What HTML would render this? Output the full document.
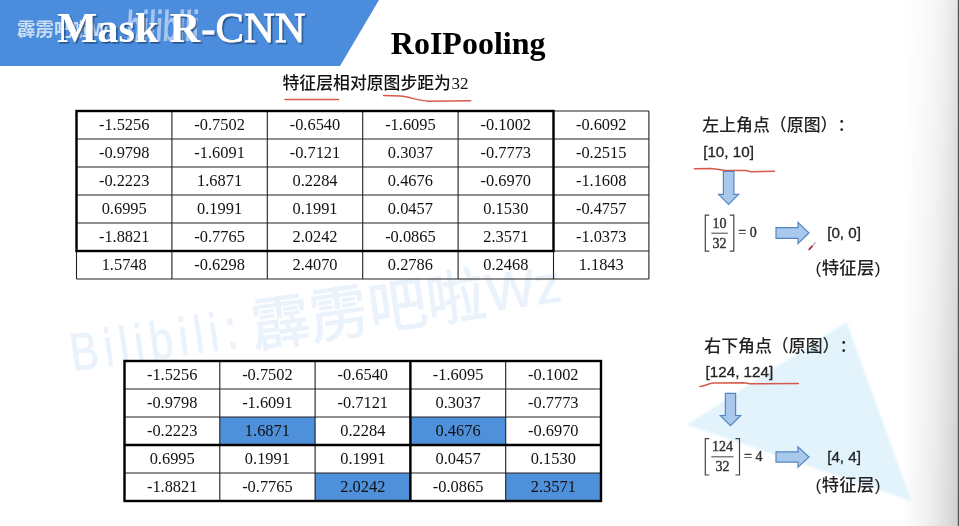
<!DOCTYPE html>
<html lang="zh"><head><meta charset="utf-8"><title>RoIPooling</title>
<style>
html,body{margin:0;padding:0;background:#fff;}
body{width:959px;height:526px;overflow:hidden;position:relative;}
svg{position:absolute;left:0;top:0;display:block;}
.num{font-family:"Liberation Serif", serif;font-size:16.4px;fill:#111;text-anchor:middle;}
.cjk{font-family:"Liberation Sans", "Noto Sans CJK SC", sans-serif;font-size:16.9px;font-weight:500;fill:#222;}
.lat{font-family:"Liberation Sans", "Noto Sans CJK SC", sans-serif;font-size:15.2px;fill:#222;stroke:#222;stroke-width:0.3px;}
.frm{font-family:"Liberation Serif", serif;font-size:14px;fill:#333;stroke:#333;stroke-width:0.4px;text-anchor:middle;}
</style></head><body>
<svg width="959" height="526" viewBox="0 0 959 526">
<defs>
<linearGradient id="rg" x1="0" y1="0" x2="1" y2="0"><stop offset="0" stop-color="#ffffff"/><stop offset="0.3" stop-color="#fcfcfc"/><stop offset="0.5" stop-color="#f9f9f9"/><stop offset="0.66" stop-color="#f4f4f4"/><stop offset="0.83" stop-color="#ececec"/><stop offset="1" stop-color="#e2e2e2"/></linearGradient>
<linearGradient id="rg2" x1="0" y1="0" x2="0" y2="1"><stop offset="0" stop-color="#000" stop-opacity="0"/><stop offset="1" stop-color="#000" stop-opacity="0.09"/></linearGradient>
<linearGradient id="rgm" x1="0" y1="0" x2="1" y2="0"><stop offset="0" stop-color="#fff" stop-opacity="0"/><stop offset="1" stop-color="#fff" stop-opacity="1"/></linearGradient>
<mask id="mk"><rect x="900" y="0" width="59" height="526" fill="url(#rgm)"/></mask>
<filter id="sh" x="-5%" y="-20%" width="110%" height="150%"><feDropShadow dx="1.6" dy="1.6" stdDeviation="0.7" flood-color="#1d3f73" flood-opacity="0.75"/></filter>
<filter id="soft" x="-5%" y="-5%" width="110%" height="110%"><feGaussianBlur stdDeviation="0.8"/></filter>
</defs>
<rect width="959" height="526" fill="#ffffff"/>
<rect x="903" y="0" width="56" height="526" fill="url(#rg)"/>
<rect x="900" y="0" width="59" height="526" fill="url(#rg2)" mask="url(#mk)"/>
<rect x="957.8" y="0" width="1.2" height="526" fill="#555"/>
<polygon points="846.5,322 687,424.7 911.5,501" fill="#e2f3fc" filter="url(#soft)"/>
<g transform="translate(71.5,371.5) rotate(-8.2)" font-family='"Liberation Sans","Noto Sans CJK SC",sans-serif' fill="#eaf2fb" stroke="#eaf2fb" stroke-width="0.9">
<text transform="scale(0.8,1)" x="1.5" y="0" font-size="53" letter-spacing="7.4">Bilibili</text>
<text transform="scale(0.8,1)" x="197" y="0" font-size="56">:</text>
<text x="184.6" y="2.5" font-size="58.9">霹雳吧啦</text>
<text x="421.5" y="0" font-size="52">Wz</text>
</g>
<polygon points="0,0 379,0 340,66 0,66" fill="#4c8cdc"/>
<text x="17" y="35.5" font-family='"Liberation Sans","Noto Sans CJK SC",sans-serif' font-size="18.5" font-weight="bold" fill="#ffffff" fill-opacity="0.7">霹雳吧啦Wz</text>
<text transform="translate(125.5,40.5) skewX(-3) scale(0.58,1)" font-family='"Liberation Sans",sans-serif' font-size="43.5" font-weight="bold" fill="#ffffff" fill-opacity="0.5">bilibili</text>
<text x="57" y="42" font-family='"Liberation Serif",serif' font-size="42.6" fill="#ffffff" filter="url(#sh)"><tspan font-weight="bold">Mask R</tspan><tspan stroke="#fff" stroke-width="0.8" dx="1.2">-CNN</tspan></text>
<text x="390.8" y="53.5" font-family='"Liberation Serif",serif' font-size="32" font-weight="bold" fill="#000">RoIPooling</text>
<text x="282.5" y="89" class="cjk" style="fill:#111;font-size:16.85px">特征层相对原图步距为<tspan font-family='"Liberation Serif",serif' font-size="17" font-weight="400" dx="0.5">32</tspan></text>
<path d="M285,99.5 L338.5,99.5" stroke="#d65a4a" stroke-width="1.5" stroke-linecap="round" fill="none"/>
<path d="M383.6,95.6 L400,96.1 C410,97 418,100.6 428.3,101.3 L470.7,100.8" stroke="#d65a4a" stroke-width="1.5" stroke-linecap="round" fill="none"/>
<path d="M76.5,111.0 H648.9 M76.5,139.0 H648.9 M76.5,167.0 H648.9 M76.5,195.0 H648.9 M76.5,223.0 H648.9 M76.5,251.0 H648.9 M76.5,279.0 H648.9 M76.5,111.0 V279.0 M171.9,111.0 V279.0 M267.3,111.0 V279.0 M362.7,111.0 V279.0 M458.1,111.0 V279.0 M553.5,111.0 V279.0 M648.9,111.0 V279.0" stroke="#222" stroke-width="1.1" fill="none"/>
<text class="num" x="124.2" y="130.1">-1.5256</text>
<text class="num" x="219.6" y="130.1">-0.7502</text>
<text class="num" x="315.0" y="130.1">-0.6540</text>
<text class="num" x="410.4" y="130.1">-1.6095</text>
<text class="num" x="505.8" y="130.1">-0.1002</text>
<text class="num" x="601.2" y="130.1">-0.6092</text>
<text class="num" x="124.2" y="158.1">-0.9798</text>
<text class="num" x="219.6" y="158.1">-1.6091</text>
<text class="num" x="315.0" y="158.1">-0.7121</text>
<text class="num" x="410.4" y="158.1">0.3037</text>
<text class="num" x="505.8" y="158.1">-0.7773</text>
<text class="num" x="601.2" y="158.1">-0.2515</text>
<text class="num" x="124.2" y="186.1">-0.2223</text>
<text class="num" x="219.6" y="186.1">1.6871</text>
<text class="num" x="315.0" y="186.1">0.2284</text>
<text class="num" x="410.4" y="186.1">0.4676</text>
<text class="num" x="505.8" y="186.1">-0.6970</text>
<text class="num" x="601.2" y="186.1">-1.1608</text>
<text class="num" x="124.2" y="214.1">0.6995</text>
<text class="num" x="219.6" y="214.1">0.1991</text>
<text class="num" x="315.0" y="214.1">0.1991</text>
<text class="num" x="410.4" y="214.1">0.0457</text>
<text class="num" x="505.8" y="214.1">0.1530</text>
<text class="num" x="601.2" y="214.1">-0.4757</text>
<text class="num" x="124.2" y="242.1">-1.8821</text>
<text class="num" x="219.6" y="242.1">-0.7765</text>
<text class="num" x="315.0" y="242.1">2.0242</text>
<text class="num" x="410.4" y="242.1">-0.0865</text>
<text class="num" x="505.8" y="242.1">2.3571</text>
<text class="num" x="601.2" y="242.1">-1.0373</text>
<text class="num" x="124.2" y="270.1">1.5748</text>
<text class="num" x="219.6" y="270.1">-0.6298</text>
<text class="num" x="315.0" y="270.1">2.4070</text>
<text class="num" x="410.4" y="270.1">0.2786</text>
<text class="num" x="505.8" y="270.1">0.2468</text>
<text class="num" x="601.2" y="270.1">1.1843</text>
<rect x="76.5" y="111.0" width="477.0" height="140.0" fill="none" stroke="#000" stroke-width="2.4"/>
<rect x="219.8" y="417.0" width="95.3" height="28.0" fill="#4e91da"/>
<rect x="410.4" y="417.0" width="95.3" height="28.0" fill="#4e91da"/>
<rect x="315.1" y="473.0" width="95.3" height="28.0" fill="#4e91da"/>
<rect x="505.7" y="473.0" width="95.3" height="28.0" fill="#4e91da"/>
<path d="M124.5,361.0 H601.0 M124.5,389.0 H601.0 M124.5,417.0 H601.0 M124.5,445.0 H601.0 M124.5,473.0 H601.0 M124.5,501.0 H601.0 M124.5,361.0 V501.0 M219.8,361.0 V501.0 M315.1,361.0 V501.0 M410.4,361.0 V501.0 M505.7,361.0 V501.0 M601.0,361.0 V501.0" stroke="#222" stroke-width="1.1" fill="none"/>
<text class="num" x="172.2" y="380.1">-1.5256</text>
<text class="num" x="267.4" y="380.1">-0.7502</text>
<text class="num" x="362.8" y="380.1">-0.6540</text>
<text class="num" x="458.1" y="380.1">-1.6095</text>
<text class="num" x="553.3" y="380.1">-0.1002</text>
<text class="num" x="172.2" y="408.1">-0.9798</text>
<text class="num" x="267.4" y="408.1">-1.6091</text>
<text class="num" x="362.8" y="408.1">-0.7121</text>
<text class="num" x="458.1" y="408.1">0.3037</text>
<text class="num" x="553.3" y="408.1">-0.7773</text>
<text class="num" x="172.2" y="436.1">-0.2223</text>
<text class="num" x="267.4" y="436.1">1.6871</text>
<text class="num" x="362.8" y="436.1">0.2284</text>
<text class="num" x="458.1" y="436.1">0.4676</text>
<text class="num" x="553.3" y="436.1">-0.6970</text>
<text class="num" x="172.2" y="464.1">0.6995</text>
<text class="num" x="267.4" y="464.1">0.1991</text>
<text class="num" x="362.8" y="464.1">0.1991</text>
<text class="num" x="458.1" y="464.1">0.0457</text>
<text class="num" x="553.3" y="464.1">0.1530</text>
<text class="num" x="172.2" y="492.1">-1.8821</text>
<text class="num" x="267.4" y="492.1">-0.7765</text>
<text class="num" x="362.8" y="492.1">2.0242</text>
<text class="num" x="458.1" y="492.1">-0.0865</text>
<text class="num" x="553.3" y="492.1">2.3571</text>
<rect x="124.5" y="361.0" width="476.5" height="140.0" fill="none" stroke="#000" stroke-width="2.4"/>
<path d="M410.4,361.0 V501.0 M124.5,445.0 H601.0" stroke="#000" stroke-width="2.4" fill="none"/>
<text class="cjk" x="702.3" y="131.2">左上角点（原图）<tspan x="837.5">：</tspan></text>
<text class="lat" x="703.2" y="156.8">[10, 10]</text>
<path d="M694.5,168.7 L710.4,168.4 C716,169 722,170.5 727.6,170.6 L745.9,170.4 C748,170.6 749,171.6 750.6,171.7 L774.5,171.3" stroke="#d65a4a" stroke-width="1.5" stroke-linecap="round" fill="none"/>
<polygon points="723.4,171.5 733.9,171.5 733.9,194.3 738.6,194.3 728.6,204.4 718.6,194.3 723.4,194.3" fill="#a8c9ec" stroke="#5585c5" stroke-width="1.2" stroke-linejoin="miter"/>
<path d="M709.3,215.2 h-4 V251.2 h4 M729.8,215.2 h4 V251.2 h-4" stroke="#444" stroke-width="1.2" fill="none"/>
<path d="M711.3,233.2 H727.8" stroke="#555" stroke-width="1.1" fill="none"/>
<text class="frm" x="719.5" y="227.7">10</text>
<text class="frm" x="719.5" y="247.7">32</text>
<text class="frm" style="text-anchor:start" x="738.3" y="237.2">= 0</text>
<polygon points="776.0,227.7 798.0,227.7 798.0,222.4 809.0,233.0 798.0,243.6 798.0,238.3 776.0,238.3" fill="#a8c9ec" stroke="#5585c5" stroke-width="1.2" stroke-linejoin="miter"/>
<text class="lat" x="827.2" y="237.7">[0, 0]</text>
<path d="M811.6,246.8 L815.8,242.3" stroke="#cfcfd4" stroke-width="2.2" fill="none"/>
<path d="M809.2,249.4 L812,246.4" stroke="#a8283e" stroke-width="1.7" stroke-linecap="round" fill="none"/>
<text class="cjk" x="815.5" y="274" style="font-size:17.3px;letter-spacing:0.4px">(特征层)</text>
<text class="cjk" x="704.3" y="351.7">右下角点（原图）<tspan x="839.5">：</tspan></text>
<text class="lat" x="705.6" y="377">[124, 124]</text>
<path d="M700,386.6 C705,386 708,383.6 713.8,383.1 L743.8,382.8 C746,383 748,383.7 750,383.8 L798.3,383.5" stroke="#d65a4a" stroke-width="1.5" stroke-linecap="round" fill="none"/>
<polygon points="725.4,393.4 735.6,393.4 735.6,415.5 740.6,415.5 730.5,425.6 720.4,415.5 725.4,415.5" fill="#a8c9ec" stroke="#5585c5" stroke-width="1.2" stroke-linejoin="miter"/>
<path d="M709.3,438.6 h-4 V475.0 h4 M735.5,438.6 h4 V475.0 h-4" stroke="#444" stroke-width="1.2" fill="none"/>
<path d="M711.3,456.8 H733.5" stroke="#555" stroke-width="1.1" fill="none"/>
<text class="frm" x="722.4" y="451.3">124</text>
<text class="frm" x="722.4" y="471.3">32</text>
<text class="frm" style="text-anchor:start" x="744.0" y="460.8">= 4</text>
<polygon points="776.0,451.9 798.0,451.9 798.0,446.8 809.0,457.0 798.0,467.2 798.0,462.1 776.0,462.1" fill="#a8c9ec" stroke="#5585c5" stroke-width="1.2" stroke-linejoin="miter"/>
<text class="lat" x="827.2" y="461.6">[4, 4]</text>
<text class="cjk" x="815.5" y="491.3" style="font-size:17.3px;letter-spacing:0.4px">(特征层)</text>
</svg>
</body></html>
